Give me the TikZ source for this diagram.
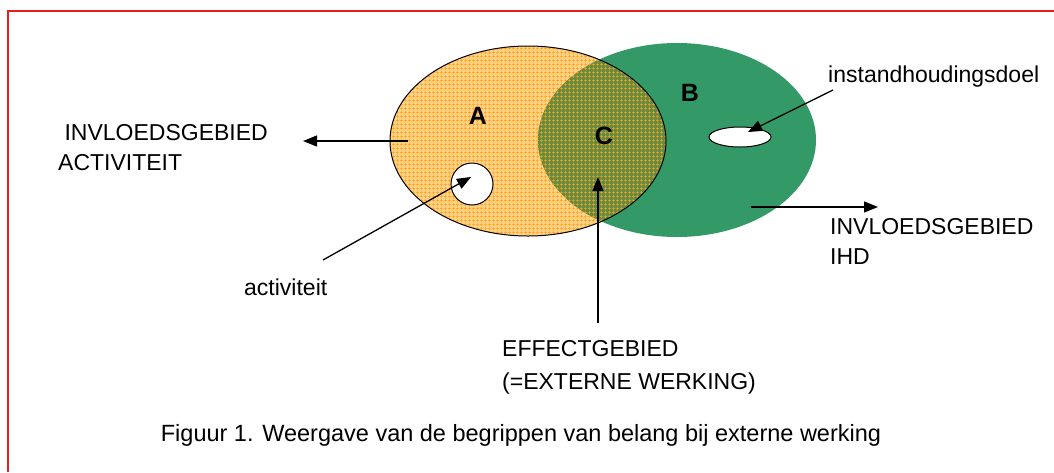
\documentclass[tikz,border=0pt]{standalone}
\usepackage{fontspec}
\setmainfont{Liberation Sans}
\usetikzlibrary{arrows.meta,patterns}
\definecolor{ihdgreen}{RGB}{51,153,102}
\definecolor{actorange}{RGB}{255,210,135}
\definecolor{gridorange}{RGB}{255,160,20}
\definecolor{overlapolive}{RGB}{95,140,70}
\definecolor{framered}{RGB}{230,30,30}
\pgfdeclarepatternformonly{finegrid}{\pgfqpoint{0pt}{0pt}}{\pgfqpoint{3.5pt}{3.5pt}}{\pgfqpoint{3.5pt}{3.5pt}}{%
	\pgfsetlinewidth{0.55pt}%
	\pgfpathmoveto{\pgfqpoint{0pt}{1.75pt}}\pgfpathlineto{\pgfqpoint{3.5pt}{1.75pt}}%
	\pgfpathmoveto{\pgfqpoint{1.75pt}{0pt}}\pgfpathlineto{\pgfqpoint{1.75pt}{3.5pt}}%
	\pgfusepath{stroke}}

\begin{document}
\begin{tikzpicture}[x=1pt,y=-1pt,
		lbl/.style={inner sep=0pt,anchor=north west,align=left,font=\fontsize{23}{30}\selectfont},
		zone/.style={inner sep=0pt,font=\bfseries\fontsize{25}{28}\selectfont},
		pijl/.style={line width=1.3pt,-{Triangle[length=14pt,width=11pt]}}]
			%%%%% START %%%%%
			\useasboundingbox (0,0) rectangle (1054,472);
			\draw[framered, line width=1.5pt] (8,472) -- (8,11) -- (1054,11);
			
			% gebieden A, B en overlap C
			\fill[actorange] (528,141) ellipse [x radius=138pt, y radius=95pt];
			\fill[ihdgreen] (677,140) ellipse [x radius=139pt, y radius=97pt];
			\begin{scope}
				\clip (528,141) ellipse [x radius=138pt, y radius=95pt];
				\fill[overlapolive] (677,140) ellipse [x radius=139pt, y radius=97pt];
			\end{scope}
			\fill[pattern=finegrid, pattern color=gridorange] (528,141) ellipse [x radius=138pt, y radius=95pt];
			\draw[line width=1pt] (528,141) ellipse [x radius=138pt, y radius=95pt];
			
			\draw[line width=1pt, fill=white] (472,184) circle [radius=21pt];
			\draw[line width=1pt, fill=white] (740,137) ellipse [x radius=31pt, y radius=10pt];
			
			\node[zone] (A) at (478,116) {A};
			\node[zone] (B) at (690,93) {B};
			\node[zone] (C) at (604,136) {C};
			
			% labels
			\node[lbl] (invact) at (58,124) {\ INVLOEDSGEBIED\\ACTIVITEIT};
			\node[lbl, anchor=base west] (act) at (244,295) {activiteit};
			\node[lbl, anchor=base west] (doel) at (828,82) {instandhoudingsdoel};
			\node[lbl] (invihd) at (830,218) {INVLOEDSGEBIED\\IHD};
			\node[lbl] (effect) at (502,340) {EFFECTGEBIED\\[3pt](=EXTERNE WERKING)};
			\node[inner sep=0pt, anchor=base, font=\fontsize{23.5}{28}\selectfont] (caption) at (521,441)
				{Figuur 1. Weergave van de begrippen van belang bij externe werking};
			
			% pijlen
			\coordinate (invact-s) at (408,141);
			\coordinate (invact-t) at (303,141);
			\coordinate (act-s) at (323,260);
			\coordinate (act-t) at (471,177);
			\coordinate (doel-s) at (833,90);
			\coordinate (doel-t) at (748,132);
			\coordinate (ihd-s) at (751,207);
			\coordinate (ihd-t) at (878,207);
			\coordinate (effect-s) at (598,323);
			\coordinate (effect-t) at (598,177);
			
			\draw[pijl] (invact-s) -- (invact-t);
			\draw[pijl] (act-s) -- (act-t);
			\draw[pijl] (doel-s) -- (doel-t);
			\draw[pijl] (ihd-s) -- (ihd-t);
			\draw[pijl] (effect-s) -- (effect-t);
			%%%%% END %%%%%
\end{tikzpicture}
\end{document}
